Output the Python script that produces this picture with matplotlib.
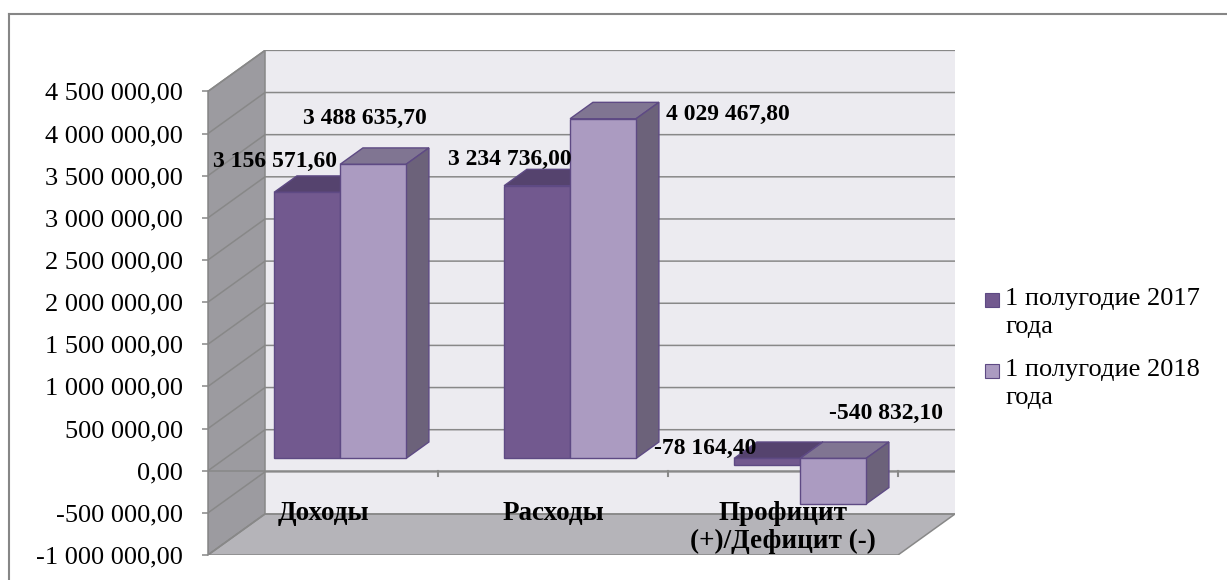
import numpy as np
import matplotlib
matplotlib.use("Agg")
import matplotlib.pyplot as plt
from matplotlib.patches import Polygon, Rectangle
from matplotlib.lines import Line2D
from matplotlib.ticker import FuncFormatter

plt.rcParams['font.family'] = ['Liberation Serif', 'DejaVu Serif']

categories = ["Доходы", "Расходы", "Профицит\n(+)/Дефицит (-)"]
series_names = ["1 полугодие 2017\nгода", "1 полугодие 2018\nгода"]
h1_2017 = [3156571.60, 3234736.00, -78164.40]
h1_2018 = [3488635.70, 4029467.80, -540832.10]
y_ticks = [-1000000, -500000, 0, 500000, 1000000, 1500000, 2000000,
           2500000, 3000000, 3500000, 4000000, 4500000]

# colours of the 3d boxes: front, top, side
face_cols = [("#72598f", "#55436e", "#4d3c64"),
             ("#ab9bc1", "#807592", "#6c627a")]
edge_col = "#5e4a84"
grid_col = "#888888"


def fmt(v, pos=None):
    s = "{:,.2f}".format(v)
    return s.replace(",", " ").replace(".", ",")


W, H = 1227, 580
fig = plt.figure(figsize=(W / 100, H / 100), dpi=100)
ax = fig.add_axes([208 / W, 25 / H, 747.5 / W, 504.6 / H])
ax.set_xlim(0, 3.25)
ax.set_ylim(-1e6, 4.986e6)

px_x = 747.5 / 3.25          # pixels per category
px_y = 504.6 / 5.986e6       # pixels per value unit
DX = 57 / px_x               # depth of the plot box
DY = 41 / px_y
lo, hi = y_ticks[0], y_ticks[-1]
ncat = len(categories)


def P(x, y, d):
    return (x + d * DX, y + d * DY)


# walls and floor
ax.add_patch(Polygon([P(0, lo, 1), P(0, hi, 1), P(ncat, hi, 1), P(ncat, lo, 1)],
                     closed=True, fc="#ecebf0", ec="none", zorder=0))
ax.add_patch(Polygon([P(0, lo, 0), P(0, hi, 0), P(0, hi, 1), P(0, lo, 1)],
                     closed=True, fc="#9c9ba0", ec=grid_col, lw=1.1, zorder=0))
ax.add_patch(Polygon([P(0, lo, 0), P(0, lo, 1), P(ncat, lo, 1), P(ncat, lo, 0)],
                     closed=True, fc="#b5b4b9", ec=grid_col, lw=1.1, zorder=0))

for v in y_ticks:
    a, b, c = P(0, v, 0), P(0, v, 1), P(ncat, v, 1)
    ax.plot([a[0], b[0], c[0]], [a[1], b[1], c[1]], color=grid_col, lw=1.1, zorder=1,
            solid_capstyle="butt")

# category axis at zero
ax.plot([0, ncat + DX], [0, 0], color=grid_col, lw=1.1, zorder=1)
for i in range(1, ncat + 1):
    ax.plot([i, i], [0, -5 / px_y], color=grid_col, lw=1.5, zorder=1)

# bars
BW = 0.287
d0, d1 = 0.3, 0.7
centers = np.arange(ncat) + 0.5
for s, vals in enumerate([h1_2017, h1_2018]):
    front, top, side = face_cols[s]
    x0s = centers - BW + s * BW
    z = 3 + s
    ax.bar(x0s + d0 * DX, vals, bottom=d0 * DY, width=BW, align="edge",
           color=front, edgecolor=edge_col, lw=1.0, zorder=z + 0.2)
    for x0, v in zip(x0s, vals):
        x1 = x0 + BW
        yt, yb = max(v, 0), min(v, 0)
        ax.add_patch(Polygon([P(x0, yt, d0), P(x1, yt, d0), P(x1, yt, d1), P(x0, yt, d1)],
                             closed=True, fc=top, ec=edge_col, lw=1.0, zorder=z))
        ax.add_patch(Polygon([P(x1, yb, d0), P(x1, yt, d0), P(x1, yt, d1), P(x1, yb, d1)],
                             closed=True, fc=side, ec=edge_col, lw=1.0, zorder=z))

# data labels (offsets in pixels from the front face end of each bar)
offsets = [[(-32, 31), (-27, 26), (-62, 17)],
           [(-8, 46), (125, 4), (53, 91)]]
for s, vals in enumerate([h1_2017, h1_2018]):
    x0s = centers - BW + s * BW
    for i, v in enumerate(vals):
        xy = P(x0s[i] + BW / 2, v, d0)
        ax.annotate(fmt(v), xy=xy, xytext=offsets[s][i], textcoords="offset pixels",
                    ha="center", va="center", fontsize=17, fontweight="bold",
                    zorder=10, annotation_clip=False)

# category labels on the floor
for c, name in zip(centers, categories):
    ax.annotate(name, xy=(c, lo), xytext=(0, 54), textcoords="offset pixels",
                ha="center", va="top", fontsize=19.5, fontweight="bold",
                linespacing=1.17, zorder=10, annotation_clip=False)

# value axis
for k in ["top", "right", "bottom"]:
    ax.spines[k].set_visible(False)
ax.spines["left"].set_bounds(lo, hi)
ax.spines["left"].set_color(grid_col)
ax.spines["left"].set_linewidth(1.1)
ax.spines["left"].set_zorder(2)
ax.set_yticks(y_ticks)
ax.yaxis.set_major_formatter(FuncFormatter(fmt))
ax.tick_params(axis="y", direction="out", length=4.3, width=1.1, color=grid_col,
               pad=13.5, labelsize=19)
ax.set_xticks([])

# legend
for s, name in enumerate(series_names):
    cy = 300 + s * 71
    fig.patches.append(Rectangle(((985) / W, 1 - (cy + 7) / H), 14 / W, 14 / H,
                                 transform=fig.transFigure, fc=face_cols[s][0],
                                 ec=edge_col, lw=0.8))
    fig.text(1005 / W, 1 - (cy - 12) / H, name, ha="left", va="top", fontsize=19,
             linespacing=1.35)

# outer frame
fig.add_artist(Line2D([9 / W, 9 / W], [0, 1 - 14 / H], transform=fig.transFigure,
                      color="#868686", lw=1.5))
fig.add_artist(Line2D([9 / W, 1], [1 - 14 / H, 1 - 14 / H], transform=fig.transFigure,
                      color="#868686", lw=1.5))

fig.savefig("out.png", dpi=100)
